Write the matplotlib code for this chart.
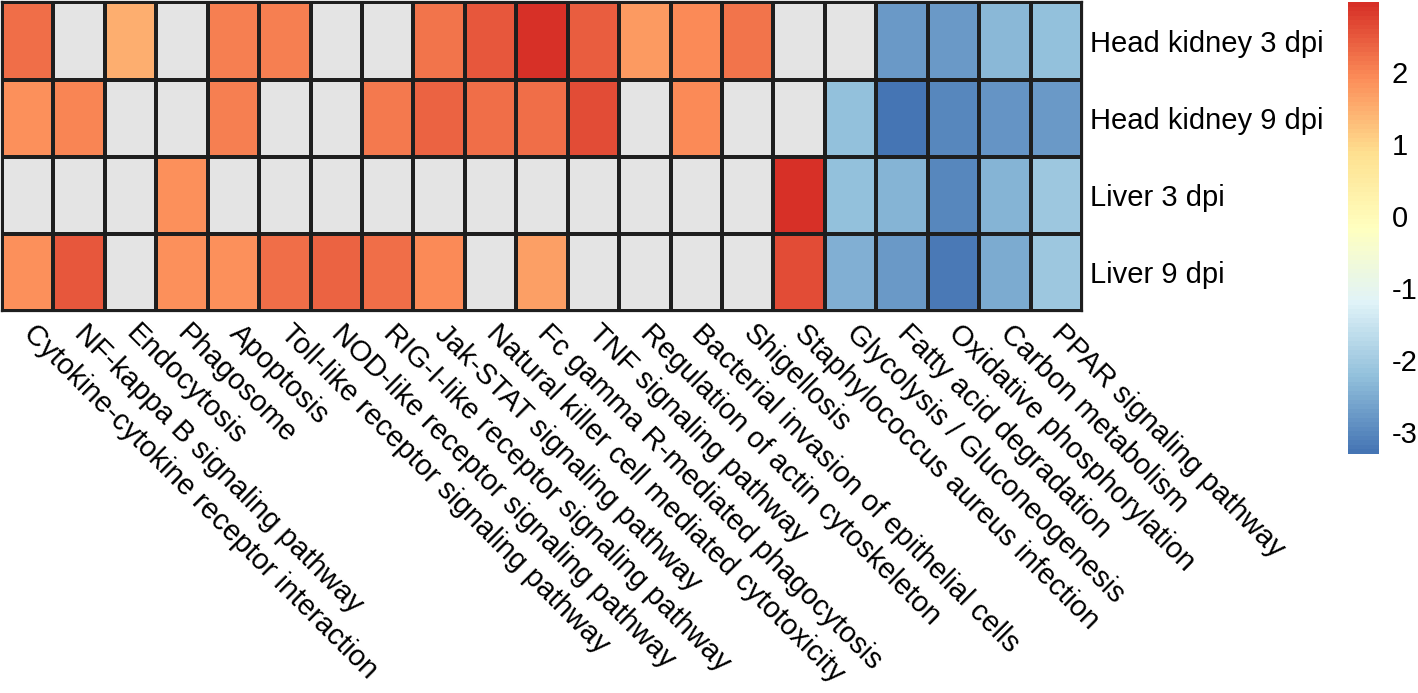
import numpy as np
import matplotlib
matplotlib.use("Agg")
import matplotlib.pyplot as plt
from matplotlib.colors import LinearSegmentedColormap

plt.rcParams['font.family'] = ['Liberation Sans', 'DejaVu Sans']
plt.rcParams['axes.unicode_minus'] = False

# samples (rows, top to bottom)
samples = ["Head kidney 3 dpi", "Head kidney 9 dpi", "Liver 3 dpi", "Liver 9 dpi"]

# KEGG pathways (columns)
pathways = [
    "Cytokine-cytokine receptor interaction",
    "NF-kappa B signaling pathway",
    "Endocytosis",
    "Phagosome",
    "Apoptosis",
    "Toll-like receptor signaling pathway",
    "NOD-like receptor signaling pathway",
    "RIG-I-like receptor signaling pathway",
    "Jak-STAT signaling pathway",
    "Natural killer cell mediated cytotoxicity",
    "Fc gamma R-mediated phagocytosis",
    "TNF signaling pathway",
    "Regulation of actin cytoskeleton",
    "Bacterial invasion of epithelial cells",
    "Shigellosis",
    "Staphylococcus aureus infection",
    "Glycolysis / Gluconeogenesis",
    "Fatty acid degradation",
    "Oxidative phosphorylation",
    "Carbon metabolism",
    "PPAR signaling pathway",
]

nan = np.nan
hk_3dpi = [2.22, nan, 1.51, nan, 2.04, 2.04, nan, nan, 2.19, 2.50, 2.91,
           2.43, 1.75, 1.92, 2.18, nan, nan, -2.80, -2.75, -2.35, -2.21]
hk_9dpi = [1.90, 2.01, nan, nan, 2.04, nan, nan, 2.13, 2.38, 2.24, 2.26,
           2.64, nan, 1.91, nan, nan, -2.18, -3.31, -3.02, -2.84, -2.75]
liver_3dpi = [nan, nan, nan, 1.90, nan, nan, nan, nan, nan, nan, nan,
              nan, nan, nan, nan, 2.97, -2.18, -2.43, -3.00, -2.43, -2.10]
liver_9dpi = [1.89, 2.52, nan, 1.89, 1.85, 2.25, 2.40, 2.25, 1.93, nan, 1.70,
              nan, nan, nan, nan, 2.65, -2.46, -2.80, -3.21, -2.54, -2.06]

mat = np.array([hk_3dpi, hk_9dpi, liver_3dpi, liver_9dpi])

# pheatmap default palette: rev(RdYlBu, 7)
cmap = LinearSegmentedColormap.from_list(
    "rdylbu7", ["#4575B4", "#91BFDB", "#E0F3F8", "#FFFFBF",
                "#FEE090", "#FC8D59", "#D73027"], N=100)
cmap.set_bad("#E4E4E4")
vmin, vmax = np.nanmin(mat), np.nanmax(mat)

fig = plt.figure(figsize=(14.18, 6.93), dpi=100)
ax = fig.add_axes([0.0014, 0.5512, 0.7616, 0.4452])

mesh = ax.pcolormesh(np.ma.masked_invalid(mat), cmap=cmap, vmin=vmin, vmax=vmax,
                     edgecolors="#1e1e1e", linewidth=1.6)
ax.set_xlim(0, len(pathways))
ax.set_ylim(len(samples), 0)

ax.set_xticks(np.arange(len(pathways)) + 0.5)
ax.set_xticklabels(pathways, rotation=-45, ha="left", va="center",
                   rotation_mode="anchor", fontsize=21)
ax.yaxis.tick_right()
ax.set_yticks(np.arange(len(samples)) + 0.5)
ax.set_yticklabels(samples, fontsize=21)
ax.tick_params(axis="x", length=0, pad=13)
ax.tick_params(axis="y", length=0, pad=6)
for s in ax.spines.values():
    s.set_color("#1e1e1e")
    s.set_linewidth(1.6)

# legend bar
cax = fig.add_axes([0.9506, 0.3449, 0.0219, 0.652])
cb = fig.colorbar(mesh, cax=cax, ticks=[-3, -2, -1, 0, 1, 2])
cb.outline.set_visible(False)
cb.ax.tick_params(length=0, labelsize=21, pad=9)

fig.savefig("out.png", dpi=100)
